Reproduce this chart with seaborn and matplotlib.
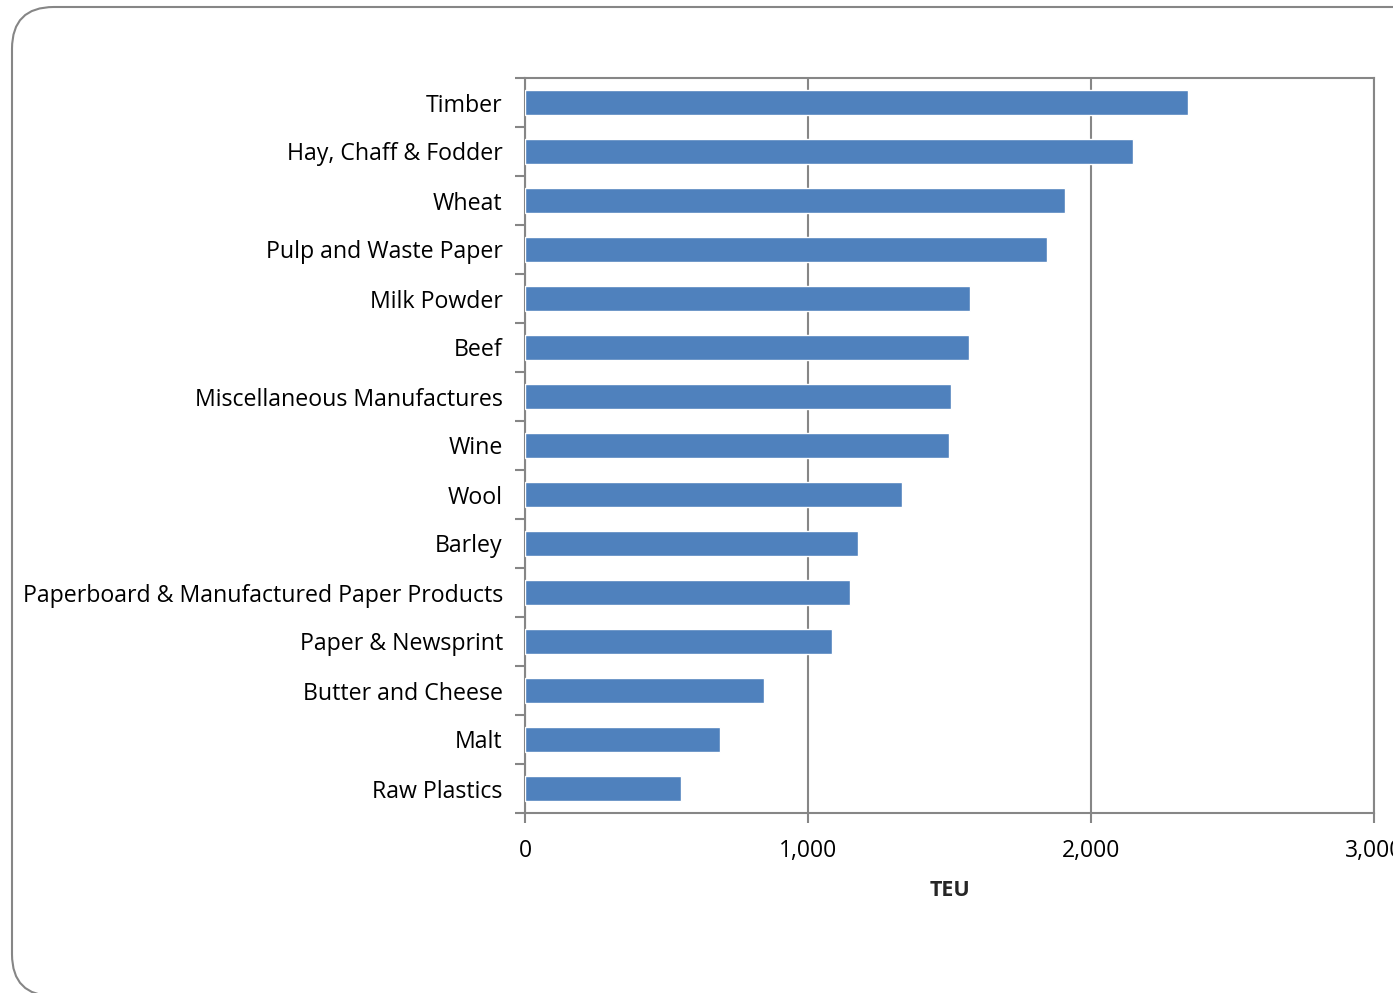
import matplotlib
matplotlib.use("Agg")
import matplotlib.pyplot as plt
from matplotlib.patches import FancyBboxPatch
from matplotlib.ticker import FuncFormatter, FixedLocator
import seaborn as sns
import pandas as pd

# TEU by commodity
commodities = [
    "Timber", "Hay, Chaff & Fodder", "Wheat", "Pulp and Waste Paper",
    "Milk Powder", "Beef", "Miscellaneous Manufactures", "Wine", "Wool",
    "Barley", "Paperboard & Manufactured Paper Products", "Paper & Newsprint",
    "Butter and Cheese", "Malt", "Raw Plastics",
]
teu = [2343, 2148, 1908, 1845, 1572, 1570, 1505, 1498, 1332,
       1177, 1148, 1085, 845, 689, 551]
x_ticks = [0, 1000, 2000, 3000]

df = pd.DataFrame({"commodity": commodities, "teu": teu})

sns.set_style("white")
plt.rcParams["font.family"] = ["Open Sans", "DejaVu Sans"]
plt.rcParams["text.color"] = "black"
plt.rcParams["xtick.labelcolor"] = "black"
plt.rcParams["ytick.labelcolor"] = "black"

grey = "#868686"
fig = plt.figure(figsize=(13.93, 9.93), dpi=100)

# rounded frame around the chart (runs off the right and bottom edges)
frame = FancyBboxPatch((12 / 1393, -3 / 993), 1.2, (993 - 7 + 3) / 993,
                       boxstyle="round,pad=0,rounding_size=0.03",
                       transform=fig.transFigure, facecolor="none",
                       edgecolor=grey, linewidth=1.5, clip_on=False,
                       mutation_aspect=1393 / 993)
fig.patches.append(frame)

ax = fig.add_axes([525 / 1393, 1 - 813 / 993, 849 / 1393, 735 / 993])
sns.barplot(data=df, x="teu", y="commodity", orient="h", color="#4F81BD",
            width=0.5, saturation=1, ax=ax, zorder=3)

ax.set_xlim(0, 3000)
ax.set_ylim(len(commodities) - 0.5, -0.5)
ax.xaxis.set_major_locator(FixedLocator(x_ticks))
ax.xaxis.set_major_formatter(FuncFormatter(lambda v, p: f"{int(v):,}"))
ax.grid(axis="x", color=grey, linewidth=1.5, zorder=0)
ax.set_axisbelow(True)

for s in ax.spines.values():
    s.set_color(grey)
    s.set_linewidth(1.5)

ax.tick_params(axis="x", which="major", direction="out", length=7, width=1.5,
               color=grey, pad=12, labelsize=16.5, bottom=True)
ax.tick_params(axis="y", which="major", length=0, pad=16, labelsize=16.7)
ax.set_yticks([i + 0.5 for i in range(-1, len(commodities))], minor=True)
ax.tick_params(axis="y", which="minor", direction="out", length=7, width=1.5,
               color=grey, left=True)

ax.set_ylabel("")
ax.set_xlabel("TEU", fontsize=15.5, fontweight="bold", labelpad=12)

fig.savefig("out.png", dpi=100)
